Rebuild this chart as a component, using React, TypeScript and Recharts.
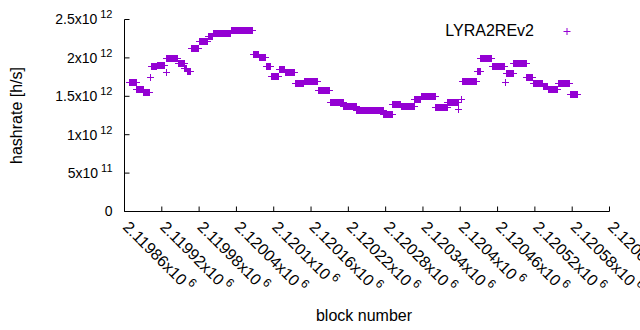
import { ScatterChart, Scatter, XAxis, YAxis } from "recharts";

const FONT = "'Liberation Sans', Arial, sans-serif";
const PURPLE = "#9400d3";

// runs of blocks with the same hashrate estimate (values in 10^12 h/s)
const runStart = [
  2119867, 2119879, 2119890, 2119901, 2119903, 2119912, 2119926, 2119927, 2119946, 2119956,
  2119960, 2119967, 2119980, 2119994, 2120002, 2120031, 2120066, 2120076, 2120087, 2120095,
  2120108, 2120118, 2120134, 2120148, 2120171, 2120190, 2120212, 2120233, 2120276, 2120291,
  2120304, 2120326, 2120337, 2120360, 2120379, 2120397, 2120401, 2120403, 2120427, 2120432,
  2120451, 2120472, 2120473, 2120485, 2120506, 2120517, 2120533, 2120541, 2120557, 2120576,
];
const runEnd = [
  2119878, 2119889, 2119899, 2119901, 2119911, 2119924, 2119926, 2119945, 2119955, 2119959,
  2119966, 2119979, 2119993, 2120001, 2120030, 2120065, 2120075, 2120086, 2120094, 2120107,
  2120117, 2120133, 2120147, 2120170, 2120189, 2120211, 2120232, 2120275, 2120290, 2120303,
  2120325, 2120336, 2120359, 2120378, 2120396, 2120397, 2120401, 2120426, 2120431, 2120450,
  2120471, 2120472, 2120484, 2120505, 2120516, 2120532, 2120540, 2120556, 2120575, 2120587,
];
const runHashrate = [
  1.68, 1.59, 1.55, 1.75, 1.89, 1.91, 1.81, 2.005, 1.935, 1.875,
  1.83, 2.135, 2.22, 2.28, 2.325, 2.357, 2.057, 2.01, 1.89, 1.77,
  1.86, 1.81, 1.67, 1.70, 1.585, 1.42, 1.38, 1.32, 1.27, 1.405,
  1.37, 1.46, 1.50, 1.36, 1.42, 1.34, 1.465, 1.705, 1.835, 2.0,
  1.895, 1.68, 1.80, 1.935, 1.75, 1.675, 1.64, 1.59, 1.675, 1.535,
];

const xTicks = [
  2119860, 2119920, 2119980, 2120040, 2120100, 2120160, 2120220,
  2120280, 2120340, 2120400, 2120460, 2120520, 2120580, 2120640,
];
const xTickLabels = [
  "2.11986", "2.11992", "2.11998", "2.12004", "2.1201", "2.12016", "2.12022",
  "2.12028", "2.12034", "2.1204", "2.12046", "2.12052", "2.12058", "2.12064",
];
const xTickExp = "6";

const yTicks = [0, 5e11, 1e12, 1.5e12, 2e12, 2.5e12];
const yTickLabels = ["0", "5", "1", "1.5", "2", "2.5"];
const yTickExp = ["", "11", "12", "12", "12", "12"];

const data: { block: number; hashrate: number }[] = [];
runStart.forEach((start, i) => {
  for (let b = start; b <= runEnd[i]; b++) {
    data.push({ block: b, hashrate: runHashrate[i] * 1e12 });
  }
});

const Plus = ({ cx, cy }: any) => {
  const x = Math.round(cx) + 0.5;
  const y = Math.round(cy) + 0.5;
  return (
    <path
      d={`M${x - 3.5},${y}H${x + 3.5}M${x},${y - 3.5}V${y + 3.5}`}
      stroke={PURPLE}
      strokeWidth={1}
      fill="none"
    />
  );
};

const BottomTick = ({ x, y, payload }: any) => {
  const i = xTicks.indexOf(payload.value);
  return (
    <g>
      <line x1={x} x2={x} y1={y} y2={y - 5} stroke="#000" />
      <g transform={`translate(${x},${y + 11}) rotate(45)`}>
        <text x={2} y={0} dy="0.35em" fontSize={16} fontFamily={FONT} fill="#000">
          {xTickLabels[i]}x10
          <tspan dx={3} dy={-7} fontSize={12}>{xTickExp}</tspan>
        </text>
      </g>
    </g>
  );
};

const TopTick = ({ x, y }: any) => <line x1={x} x2={x} y1={y} y2={y + 5} stroke="#000" />;

const LeftTick = ({ x, y, payload }: any) => {
  const i = yTicks.indexOf(payload.value);
  return (
    <g>
      <line x1={x} x2={x + 5} y1={y} y2={y} stroke="#000" />
      <text x={x - 12} y={y} dy="0.35em" textAnchor="end" fontSize={14} fontFamily={FONT} fill="#000">
        {yTickLabels[i]}
        {yTickExp[i] && "x10"}
        {yTickExp[i] && <tspan dx={3} dy={-6} fontSize={11}>{yTickExp[i]}</tspan>}
      </text>
    </g>
  );
};

const RightTick = ({ x, y }: any) => <line x1={x} x2={x - 5} y1={y} y2={y} stroke="#000" />;

export default function App() {
  return (
    <div style={{ position: "absolute", left: 0, top: 0, width: 640, height: 330, background: "#fff" }}>
      <ScatterChart width={640} height={330} margin={{ top: 19.5, right: 30.5, bottom: 0, left: 0 }}>
        <XAxis
          dataKey="block"
          type="number"
          domain={[2119860, 2120640]}
          ticks={xTicks}
          interval={0}
          height={118.5}
          tickSize={0}
          tickMargin={0}
          tickLine={false}
          axisLine={{ stroke: "#000" }}
          tick={<BottomTick />}
          label={(p: any) => (
            <text
              x={p.viewBox.x + p.viewBox.width / 2 - 3}
              y={321}
              textAnchor="middle"
              fontSize={16}
              fontFamily={FONT}
              fill="#000"
            >
              block number
            </text>
          )}
        />
        <XAxis
          xAxisId="top"
          orientation="top"
          type="number"
          domain={[2119860, 2120640]}
          ticks={xTicks}
          interval={0}
          height={0}
          tickSize={0}
          tickMargin={0}
          tickLine={false}
          axisLine={{ stroke: "#000" }}
          tick={<TopTick />}
        />
        <YAxis
          dataKey="hashrate"
          type="number"
          domain={[0, 2.5e12]}
          ticks={yTicks}
          interval={0}
          width={124.5}
          tickSize={0}
          tickMargin={0}
          tickLine={false}
          axisLine={{ stroke: "#000" }}
          tick={<LeftTick />}
          label={(p: any) => (
            <text
              x={0}
              y={0}
              transform={`translate(22,${p.viewBox.y + p.viewBox.height / 2}) rotate(-90)`}
              textAnchor="middle"
              fontSize={16}
              fontFamily={FONT}
              fill="#000"
            >
              hashrate [h/s]
            </text>
          )}
        />
        <YAxis
          yAxisId="right"
          orientation="right"
          type="number"
          domain={[0, 2.5e12]}
          ticks={yTicks}
          interval={0}
          width={0}
          tickSize={0}
          tickMargin={0}
          tickLine={false}
          axisLine={{ stroke: "#000" }}
          tick={<RightTick />}
        />
        <Scatter data={data} fill={PURPLE} shape={<Plus />} isAnimationActive={false} />
      </ScatterChart>
      <div
        style={{
          position: "absolute",
          left: 440,
          top: 21,
          width: 140,
          height: 20,
          fontFamily: FONT,
          fontSize: 16,
          color: "#000",
        }}
      >
        <span style={{ position: "absolute", left: 0, top: 0, width: 94, textAlign: "right", lineHeight: "20px" }}>
          LYRA2REv2
        </span>
        <svg style={{ position: "absolute", left: 122, top: 5 }} width={10} height={10}>
          <path d="M1.5,5.5H8.5M5,2V9" stroke={PURPLE} strokeWidth={1} fill="none" />
        </svg>
      </div>
    </div>
  );
}
